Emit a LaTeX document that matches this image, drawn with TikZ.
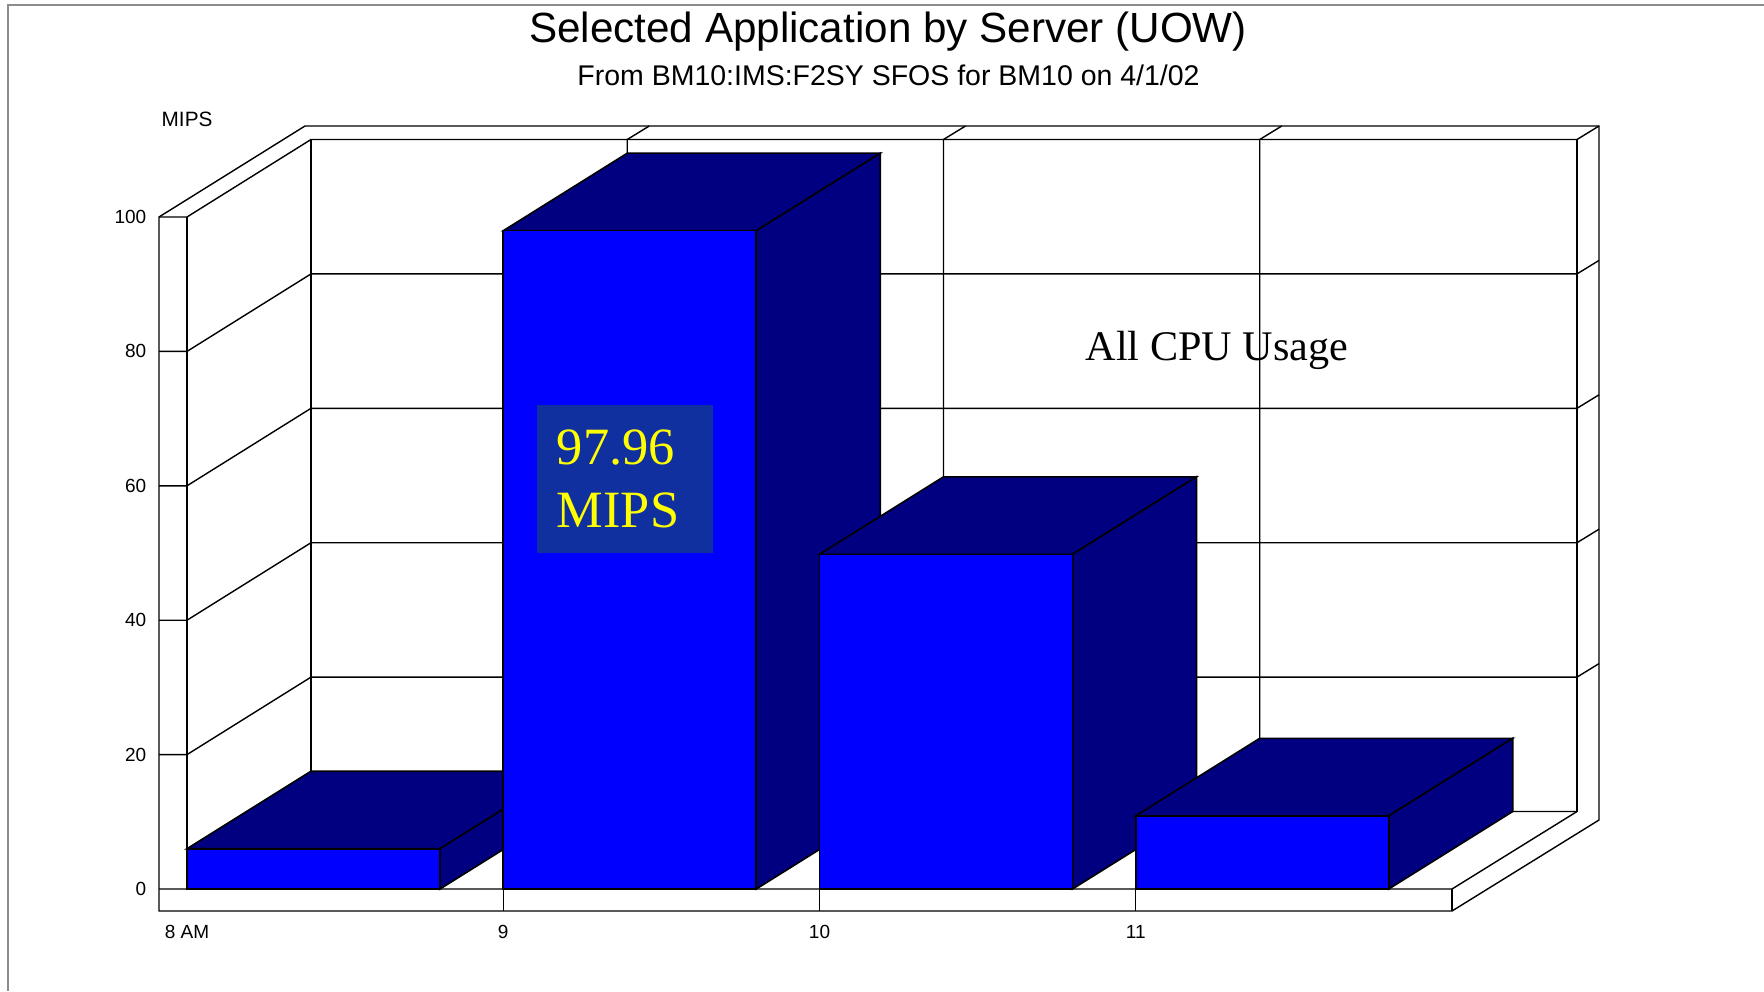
\documentclass[tikz,border=0pt]{standalone}
\usepackage{fontspec}
\setmainfont{Liberation Sans}
\newfontfamily\serifface{Liberation Serif}
\usepackage{xcolor}
\usepackage{tikz}

\definecolor{barblue}{HTML}{0000FF}
\definecolor{barnavy}{HTML}{000080}
\definecolor{valbg}{HTML}{1030A0}
\definecolor{valtext}{HTML}{FFFF00}

\begin{document}
\begin{tikzpicture}[
  x=0.01cm, y=-0.01cm,
  gridline/.style={draw=black, line width=0.4pt},
  border/.style={draw=black!45, line width=0.6pt},
  frontface/.style={fill=barblue, draw=black, line width=0.45pt},
  darkface/.style={fill=barnavy, draw=black, line width=0.45pt},
  ticklabel/.style={font=\fontsize{5.4}{6.5}\selectfont, inner sep=0pt},
  titletext/.style={font=\fontsize{12}{14}\selectfont, inner sep=0pt},
  subtext/.style={font=\fontsize{8.1}{10}\selectfont, inner sep=0pt},
  valbox/.style={fill=valbg, text=valtext, font=\serifface\fontsize{14.9}{18}\selectfont,
    minimum width=1.76cm, minimum height=1.48cm, text width=1.36cm, inner xsep=0.2cm, align=left}
]
  \useasboundingbox (0,0) rectangle (1764,991);
  \draw[border] (8,991) -- (8,5) -- (1764,5);

  % titles
  \node[titletext, anchor=base] (title) at (888,43) {Selected Application by Server (UOW)};
  \node[subtext, anchor=base] (subtitle) at (888.5,86) {From BM10:IMS:F2SY SFOS for BM10 on 4/1/02};
  \node[ticklabel, font=\fontsize{5.9}{7}\selectfont, anchor=base west] (unit) at (161,127) {MIPS};

  % walls and floor
  \draw[gridline] (159,911) -- (159,217) -- (305,126) -- (1599,126) -- (1599,820) -- (1452,911) -- cycle;
  \draw[gridline] (187,889) -- (187,217);
  \draw[gridline] (159,889) -- (187,889) -- (311,811.5) -- (1577,811.5);
  \draw[gridline] (159,754.6) -- (187,754.6) -- (311,677.1) -- (1577,677.1) -- (1599,663.6);
  \draw[gridline] (159,620.2) -- (187,620.2) -- (311,542.7) -- (1577,542.7) -- (1599,529.2);
  \draw[gridline] (159,485.8) -- (187,485.8) -- (311,408.3) -- (1577,408.3) -- (1599,394.8);
  \draw[gridline] (159,351.4) -- (187,351.4) -- (311,273.9) -- (1577,273.9) -- (1599,260.4);
  \draw[gridline] (159,217) -- (187,217) -- (311,139.5) -- (1577,139.5) -- (1599,126);
  \draw[gridline] (311,139.5) -- (311,811.5);
  \draw[gridline] (627.25,811.5) -- (627.25,139.5) -- (649.25,126);
  \draw[gridline] (943.5,811.5) -- (943.5,139.5) -- (965.5,126);
  \draw[gridline] (1259.75,811.5) -- (1259.75,139.5) -- (1281.75,126);
  \draw[gridline] (1577,139.5) -- (1577,811.5);
  \draw[gridline] (187,889) -- (1452,889) -- (1577,811.5);
  \draw[gridline] (1452,889) -- (1452,911);
  \draw[gridline] (503.25,889) -- (503.25,911);
  \draw[gridline] (819.5,889) -- (819.5,911);
  \draw[gridline] (1135.75,889) -- (1135.75,911);

  % bar 8 AM
  \draw[darkface] (187,848.7) -- (440,848.7) -- (564,771.2) -- (311,771.2) -- cycle;
  \draw[darkface] (440,889) -- (440,848.7) -- (564,771.2) -- (564,811.5) -- cycle;
  \draw[frontface] (187,889) rectangle (440,848.7);
  % bar 9
  \draw[darkface] (503.25,230.7) -- (756.25,230.7) -- (880.25,153.2) -- (627.25,153.2) -- cycle;
  \draw[darkface] (756.25,889) -- (756.25,230.7) -- (880.25,153.2) -- (880.25,811.5) -- cycle;
  \draw[frontface] (503.25,889) rectangle (756.25,230.7);
  % bar 10
  \draw[darkface] (819.5,554.3) -- (1072.5,554.3) -- (1196.5,476.8) -- (943.5,476.8) -- cycle;
  \draw[darkface] (1072.5,889) -- (1072.5,554.3) -- (1196.5,476.8) -- (1196.5,811.5) -- cycle;
  \draw[frontface] (819.5,889) rectangle (1072.5,554.3);
  % bar 11
  \draw[darkface] (1135.75,815.8) -- (1388.75,815.8) -- (1512.75,738.3) -- (1259.75,738.3) -- cycle;
  \draw[darkface] (1388.75,889) -- (1388.75,815.8) -- (1512.75,738.3) -- (1512.75,811.5) -- cycle;
  \draw[frontface] (1135.75,889) rectangle (1388.75,815.8);

  % value labels
  \node[ticklabel, anchor=east] (y0) at (147,889) {0};
  \node[ticklabel, anchor=east] (y20) at (147,754.6) {20};
  \node[ticklabel, anchor=east] (y40) at (147,620.2) {40};
  \node[ticklabel, anchor=east] (y60) at (147,485.8) {60};
  \node[ticklabel, anchor=east] (y80) at (147,351.4) {80};
  \node[ticklabel, anchor=east] (y100) at (147,217) {100};

  % hour labels
  \node[ticklabel] (h8) at (187,932) {8 AM};
  \node[ticklabel] (h9) at (503.25,932) {9};
  \node[ticklabel] (h10) at (819.5,932) {10};
  \node[ticklabel] (h11) at (1135.75,932) {11};

  % notes
  \node[valbox] (peak) at (625,479) {97.96\\MIPS};
  \node[anchor=base west, inner sep=0pt, font=\serifface\fontsize{12}{14}\selectfont] (usage) at (1085,360) {All CPU Usage};
\end{tikzpicture}
\end{document}
